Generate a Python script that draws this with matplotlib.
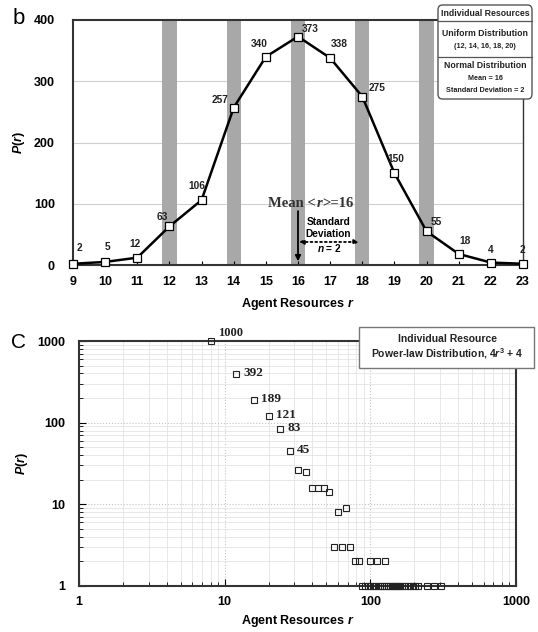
import numpy as np
import matplotlib
matplotlib.use("Agg")
import matplotlib.pyplot as plt
from matplotlib.patches import FancyBboxPatch, Rectangle
from matplotlib.lines import Line2D
from matplotlib.offsetbox import TextArea, HPacker, AnnotationBbox

plt.rcParams['font.family'] = ['Liberation Sans', 'DejaVu Sans']
plt.rcParams['mathtext.fontset'] = 'custom'
plt.rcParams['mathtext.rm'] = 'Liberation Sans:bold'
plt.rcParams['mathtext.bf'] = 'Liberation Sans:bold'
plt.rcParams['mathtext.it'] = 'Liberation Sans:italic:bold'

# panel b: normal distribution of agent resources
r_vals = [9, 10, 11, 12, 13, 14, 15, 16, 17, 18, 19, 20, 21, 22, 23]
p_vals = [2, 5, 12, 63, 106, 257, 340, 373, 338, 275, 150, 55, 18, 4, 2]
uniform_r = [12, 14, 16, 18, 20]
# label offsets in pixels (dx, dy) for each point label
lab_off = [(6, 16), (2, 15), (-2, 14), (-7, 9), (-5, 14), (-14, 8), (-7, 13), (12, 8),
           (9, 14), (15, 9), (1, 14), (10, 9), (6, 13), (0, 13), (-1, 14)]

# panel c: power-law distribution (log-log)
pl_r = [8, 12, 16, 20, 24, 28, 32, 36, 40, 44, 48, 52, 60, 68, 56, 64, 72,
        79, 84, 99, 111, 126,
        88, 92, 96, 100, 104, 108, 112, 116, 120, 124, 128, 132, 136, 140, 144,
        148, 152, 156, 160, 166, 172, 180, 188, 196, 204, 212, 246, 275, 308]
pl_p = [1000, 392, 189, 121, 83, 45, 26, 25, 16, 16, 16, 14, 8, 9, 3, 3, 3,
        2, 2, 2, 2, 2,
        1, 1, 1, 1, 1, 1, 1, 1, 1, 1, 1, 1, 1, 1, 1,
        1, 1, 1, 1, 1, 1, 1, 1, 1, 1, 1, 1, 1, 1]
pl_labels = [1000, 392, 189, 121, 83, 45]

W, H = 538, 632
fig = plt.figure(figsize=(W / 100, H / 100), dpi=100)


def fx(px):
    return px / W


def fy(py):
    return 1 - py / H


# ---------------- panel b ----------------
ax1 = fig.add_axes([fx(73), fy(265), fx(523) - fx(73), fy(20) - fy(265)])
for u in uniform_r:
    ax1.axvspan(u - 0.22, u + 0.22, color='#a8a8a8', lw=0, zorder=1)
for yy in [100, 200, 300]:
    ax1.axhline(yy, color='#cfcfcf', lw=0.8, zorder=0.5)
ax1.plot(r_vals, p_vals, color='black', lw=1.8, marker='s', ms=5.2,
         mfc='white', mec='black', mew=0.9, zorder=3, clip_on=False)
for xv, yv, (dx, dy) in zip(r_vals, p_vals, lab_off):
    ax1.annotate(str(yv), (xv, yv), xytext=(dx, dy), textcoords='offset pixels',
                 ha='center', va='center', fontsize=7.3, fontweight='bold',
                 color='#222222', zorder=4)
ax1.set_xlim(9, 23)
ax1.set_ylim(0, 400)
ax1.set_xticks(r_vals)
ax1.set_yticks([0, 100, 200, 300, 400])
ax1.tick_params(axis='x', direction='in', length=3, pad=8, labelsize=9)
ax1.tick_params(axis='y', direction='in', length=0, pad=13, labelsize=9)
for lbl in ax1.get_xticklabels() + ax1.get_yticklabels():
    lbl.set_fontweight('bold')
for s in ['left', 'bottom', 'top']:
    ax1.spines[s].set_linewidth(1.5)
    ax1.spines[s].set_color('#333333')
ax1.spines['right'].set_linewidth(1.0)
ax1.spines['right'].set_color('#333333')
ax1.set_xlabel('Agent Resources $r$', fontsize=9, fontweight='bold', labelpad=6)
ax1.set_ylabel('$P$($r$)', fontsize=9, fontweight='bold', labelpad=5)

# mean annotation
serif = dict(family='Liberation Serif', size=10.5, weight='bold', color='#333333')
serif_it = dict(family='Liberation Serif', size=10.5, weight='bold', style='italic', color='#333333')
mean_box = HPacker(children=[TextArea('Mean <', textprops=serif),
                             TextArea('r', textprops=serif_it),
                             TextArea('>=16', textprops=serif)], pad=0, sep=0)
ab = AnnotationBbox(mean_box, (16.4, 101), xycoords='data', frameon=False,
                    box_alignment=(0.5, 0.5), pad=0, zorder=5)
ax1.add_artist(ab)
ax1.annotate('', xy=(16, 6), xytext=(16, 88),
             arrowprops=dict(arrowstyle='-|>', color='black', lw=1.3,
                             mutation_scale=8, shrinkA=0, shrinkB=0), zorder=5)
ax1.annotate('', xy=(17.9, 37.6), xytext=(16.03, 37.6),
             arrowprops=dict(arrowstyle='<|-|>', color='black', lw=1.3, ls=':',
                             mutation_scale=7, shrinkA=0, shrinkB=0), zorder=5)
ax1.text(16.95, 71, 'Standard', ha='center', va='center', fontsize=7.3, fontweight='bold')
ax1.text(16.95, 50, 'Deviation', ha='center', va='center', fontsize=7.3, fontweight='bold')
ax1.text(16.97, 27, '$n$ = 2', ha='center', va='center', fontsize=7.3, fontweight='bold')

# legend box (panel b)
fig.patches.append(FancyBboxPatch((fx(438), fy(99)), fx(532) - fx(438), fy(5) - fy(99),
                                  boxstyle='round,pad=0,rounding_size=0.008',
                                  transform=fig.transFigure, fc='white', ec='#555555',
                                  lw=1.0, zorder=10))
for py in [21, 57]:
    fig.lines.append(Line2D([fx(438), fx(532)], [fy(py), fy(py)], transform=fig.transFigure,
                            color='#555555', lw=0.9, zorder=11))
leg_items = [('Individual Resources', 14, 6.3), ('Uniform Distribution', 33, 6.3),
             ('(12, 14, 16, 18, 20)', 47, 5.2), ('Normal Distribution', 66, 6.3),
             ('Mean = 16', 79, 5.2), ('Standard Deviation = 2', 91, 5.2)]
for txt, py, fs in leg_items:
    fig.text(fx(485), fy(py), txt, ha='center', va='center', fontsize=fs,
             fontweight='bold', color='#222222', zorder=12)

# ---------------- panel c ----------------
ax2 = fig.add_axes([fx(79), fy(586), fx(516) - fx(79), fy(341) - fy(586)])
ax2.set_xscale('log')
ax2.set_yscale('log')
ax2.set_xlim(1, 1000)
ax2.set_ylim(1, 1000)
ax2.grid(True, which='minor', color='#e4e4e4', lw=0.6)
ax2.grid(True, which='major', color='#c4c4c4', lw=0.8, ls=':')
ax2.set_axisbelow(True)
ax2.plot(pl_r, pl_p, ls='none', marker='s', ms=4.7, mfc='none', mec='#222222',
         mew=0.8, clip_on=False, zorder=3)
for xv, yv in zip(pl_r, pl_p):
    if yv in pl_labels:
        dy = 8 if yv == 1000 else 1
        ax2.annotate(str(yv), (xv, yv), xytext=(7, dy), textcoords='offset pixels',
                     ha='left', va='center', family='Liberation Serif',
                     fontsize=9 if yv == 1000 else 9.5,
                     fontweight='bold', color='#222222')
ax2.set_xticks([1, 10, 100, 1000])
ax2.set_xticklabels(['1', '10', '100', '1000'])
ax2.set_yticks([1, 10, 100, 1000])
ax2.set_yticklabels(['1', '10', '100', '1000'])
ax2.tick_params(which='major', direction='in', length=5, labelsize=9)
ax2.tick_params(which='minor', direction='in', length=3)
ax2.tick_params(axis='x', which='major', pad=7)
ax2.tick_params(axis='y', which='major', pad=10)
for lbl in ax2.get_xticklabels() + ax2.get_yticklabels():
    lbl.set_fontweight('bold')
for s in ['left', 'bottom', 'top', 'right']:
    ax2.spines[s].set_linewidth(1.5)
    ax2.spines[s].set_color('#333333')
ax2.set_xlabel('Agent Resources $r$', fontsize=9, fontweight='bold', labelpad=4)
ax2.set_ylabel('$P$($r$)', fontsize=9, fontweight='bold', labelpad=5)

# legend box (panel c)
fig.patches.append(Rectangle((fx(359), fy(368)), fx(534) - fx(359), fy(327) - fy(368),
                             transform=fig.transFigure, fc='white', ec='#777777',
                             lw=1.0, zorder=10))
fig.text(fx(447), fy(339), 'Individual Resource', ha='center', va='center',
         fontsize=7.5, fontweight='bold', color='#222222', zorder=12)
fig.text(fx(447), fy(354), 'Power-law Distribution, 4$r^3$ + 4', ha='center', va='center',
         fontsize=7.5, fontweight='bold', color='#222222', zorder=12)

# panel letters
fig.text(fx(19), fy(18), 'b', ha='center', va='center', fontsize=16)
fig.text(fx(18), fy(342), 'C', ha='center', va='center', fontsize=15)

fig.savefig('out.png', dpi=100)
